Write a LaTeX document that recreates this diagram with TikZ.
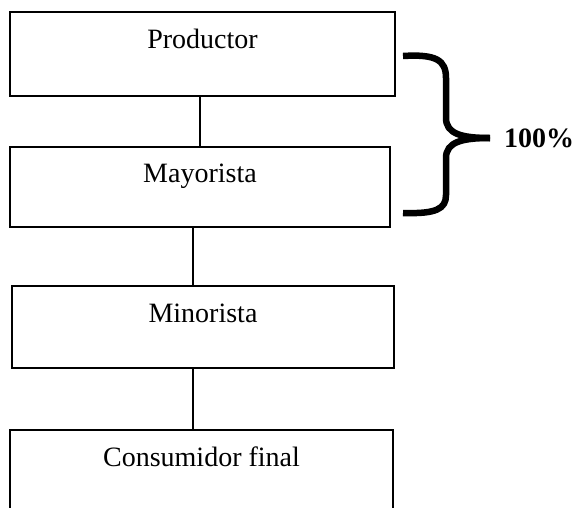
\documentclass[tikz,border=0pt]{standalone}
\usepackage{fontspec}
\setmainfont{Liberation Serif}
\begin{document}
\begin{tikzpicture}[x=1pt,y=-1pt,
  boxst/.style={draw=black,line width=1.6pt,rectangle,inner sep=0pt},
  lbl/.style={font=\fontsize{28}{33}\selectfont,anchor=base,inner sep=0pt},
  conn/.style={draw=black,line width=1.3pt},
  bracest/.style={draw=black,line width=6.5pt,line cap=butt,line join=round}]
\useasboundingbox (0,0) rectangle (573,507);
\node[boxst,minimum width=385pt,minimum height=84pt] (prod) at (202.5,54) {};
\node[boxst,minimum width=380pt,minimum height=80pt] (may) at (200,187) {};
\node[boxst,minimum width=382pt,minimum height=82pt] (min) at (203,327) {};
\node[boxst,minimum width=383pt,minimum height=110pt] (cons) at (201.5,485) {};
\node[lbl] (prodt) at ([yshift=-37pt]prod.north) {Productor};
\node[lbl] (mayt) at ([yshift=-36pt]may.north) {Mayorista};
\node[lbl] (mint) at ([yshift=-37pt]min.north) {Minorista};
\node[lbl] (const) at ([yshift=-37pt]cons.north) {Consumidor final};
\draw[conn] (prod.south -| may.north) -- (may.north);
\draw[conn] ([xshift=-7pt]may.south) -- ([xshift=-7pt]may.south |- min.north);
\draw[conn] ([xshift=-10pt]min.south) -- ([xshift=-10pt]min.south |- cons.north);
\coordinate (btop) at (403,56);
\coordinate (bbot) at (403,213);
\coordinate (btip) at (490,138);
\draw[bracest] (btop) .. controls (436,54) and (446,60) .. (446,78)
  -- (446,118) .. controls (446,134) and (462,138) .. (btip);
\draw[bracest] (btip) .. controls (462,138) and (446,142) .. (446,158)
  -- (446,195) .. controls (446,209) and (436,214) .. (bbot);
\node[font=\fontsize{28}{33}\selectfont\bfseries,anchor=base west,inner sep=0pt] (pct) at (504,147) {100\%};
\end{tikzpicture}
\end{document}
